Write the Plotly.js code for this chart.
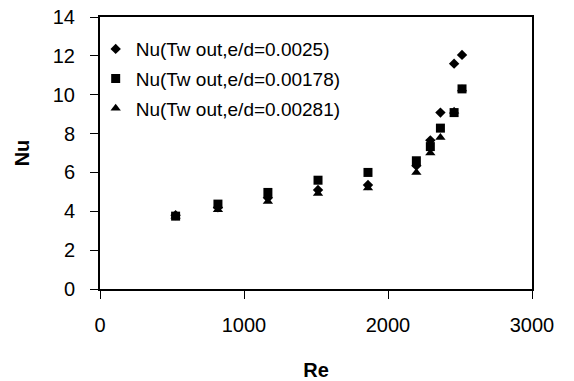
<!DOCTYPE html>
<html>
<head>
<meta charset="utf-8">
<script src="https://cdn.plot.ly/plotly-3.0.1.min.js"></script>
<style>html,body{margin:0;padding:0;background:#fff;}#chart{width:574px;height:381px;}</style>
</head>
<body>
<div id="chart"></div>
<script>
const re = [525, 819, 1166, 1514, 1861, 2197, 2294, 2364, 2459, 2514];
const nuDiamond = [3.8, 4.2, 4.7, 5.1, 5.35, 6.35, 7.65, 9.08, 11.6, 12.05];
const nuSquare = [3.75, 4.37, 4.97, 5.6, 6.0, 6.6, 7.33, 8.28, 9.08, 10.3];
const nuTriangle = [3.75, 4.08, 4.5, 4.92, 5.2, 6.0, 7.0, 7.8, 9.15, 10.3];
const names = ['Nu(Tw out,e/d=0.0025)', 'Nu(Tw out,e/d=0.00178)', 'Nu(Tw out,e/d=0.00281)'];

const font = 'Liberation Sans, Arial, sans-serif';
function tr(y, name, sym, size, g) {
  return {x: re, y: y, name: name, type: 'scatter', mode: 'markers', legendgroup: g,
    marker: {symbol: sym, size: size, color: '#000'}};
}
const data = [
  tr(nuDiamond, names[0], 'diamond', 8, 'a'),
  tr(nuSquare, names[1], 'square', 9, 'b'),
  tr(nuTriangle, names[2], 'triangle-up', 9, 'c')
];
const layout = {
  width: 574, height: 381,
  margin: {l: 100, r: 42, t: 17, b: 92},
  paper_bgcolor: '#fff', plot_bgcolor: '#fff',
  font: {family: font, size: 18, color: '#000'},
  showlegend: true,
  legend: {x: -0.01, y: 0.952, xanchor: 'left', yanchor: 'top', bgcolor: 'rgba(0,0,0,0)',
    font: {family: font, size: 19, color: '#000'}, itemwidth: 30, tracegroupgap: 2},
  xaxis: {range: [0, 3000], dtick: 1000, tick0: 0, showgrid: false, zeroline: false,
    showline: true, linecolor: '#000', linewidth: 2, mirror: true,
    ticks: 'outside', ticklen: 8, tickcolor: '#000', tickwidth: 1, ticklabelstandoff: 9,
    tickfont: {family: font, size: 20, color: '#000'},
    title: {text: '<b>Re</b>', font: {family: font, size: 20, color: '#000'}, standoff: 28}},
  yaxis: {range: [0, 14], dtick: 2, tick0: 0, showgrid: false, zeroline: false,
    showline: true, linecolor: '#000', linewidth: 2, mirror: true,
    ticks: 'outside', ticklen: 8, tickcolor: '#000', tickwidth: 1, ticklabelstandoff: 11,
    tickfont: {family: font, size: 20, color: '#000'},
    title: {text: '<b>Nu</b>', font: {family: font, size: 20, color: '#000'}, standoff: 18}}
};
Plotly.newPlot('chart', data, layout, {staticPlot: true, displayModeBar: false});
</script>
</body>
</html>
